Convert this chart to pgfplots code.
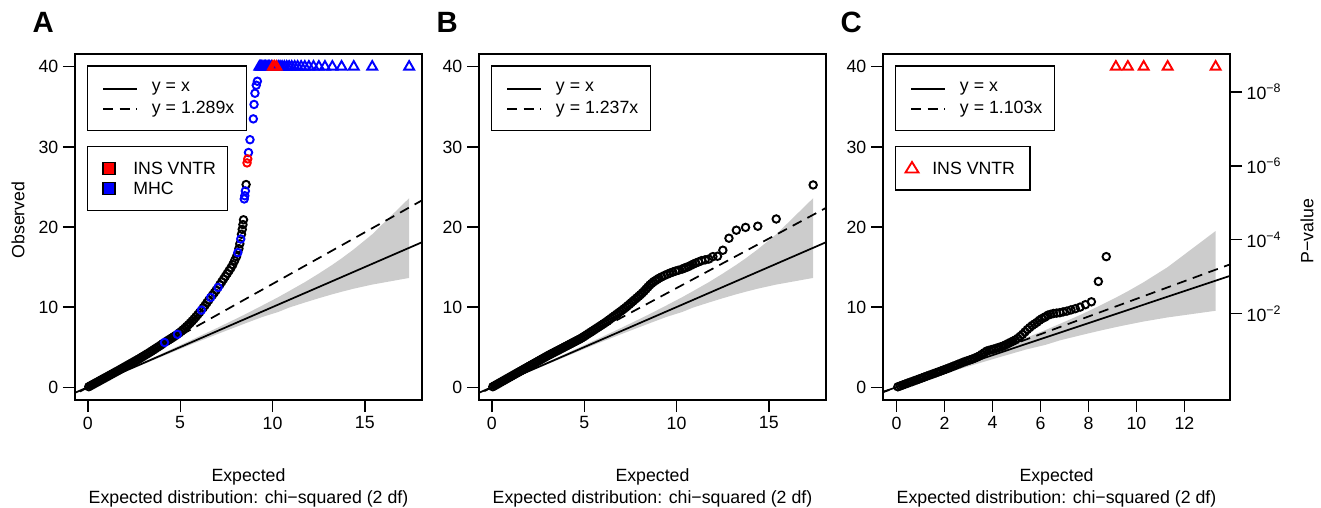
\documentclass[border=0pt]{standalone}
\usepackage{fontspec}
\setmainfont{Liberation Sans}
\usepackage{pgfplots}
\pgfplotsset{compat=1.18}
\definecolor{bandgray}{RGB}{204,204,204}
\definecolor{qqblue}{RGB}{0,0,255}
\definecolor{qqred}{RGB}{255,0,0}
\newcommand{\fs}{\fontsize{13.3}{16}\selectfont}

\pgfplotstableread{
x y
0.05 0.06
0.15 0.19
0.25 0.32
0.35 0.44
0.45 0.57
0.55 0.69
0.65 0.82
0.75 0.95
0.85 1.07
0.95 1.2
1.05 1.32
1.15 1.45
1.25 1.58
1.35 1.7
1.45 1.83
1.55 1.96
1.65 2.08
1.75 2.21
1.85 2.34
1.95 2.47
2.05 2.6
2.15 2.73
2.25 2.86
2.35 2.99
2.45 3.12
2.55 3.25
2.65 3.38
2.75 3.51
2.85 3.65
2.95 3.79
3.05 3.93
3.15 4.07
3.25 4.21
3.35 4.35
3.45 4.5
3.55 4.65
3.65 4.8
3.75 4.95
3.85 5.1
3.95 5.25
4.05 5.42
4.25 5.72
4.35 5.86
4.45 6.0
4.55 6.15
4.65 6.3
4.75 6.45
4.95 6.78
5.05 6.96
5.15 7.16
5.25 7.36
5.35 7.58
5.45 7.8
5.55 8.03
5.65 8.27
5.75 8.52
5.85 8.78
5.95 9.05
6.05 9.33
6.25 9.92
6.35 10.23
6.45 10.55
6.55 10.88
6.75 11.5
6.85 11.8
6.95 12.12
7.15 12.8
7.25 13.15
7.35 13.5
7.45 13.85
7.55 14.2
7.65 14.55
7.75 14.9
7.85 15.3
7.95 15.8
8.05 16.3
8.18 17.3
8.23 17.9
8.32 19.1
8.36 19.7
8.40 20.3
8.43 20.9
8.57 25.3
}\dataAblack

\pgfplotstableread{
x y
4.15 5.58
4.85 6.6
6.15 9.62
6.65 11.2
7.05 12.45
8.12 16.8
8.28 18.5
}\dataAbluelow

\pgfplotstableread{
x y
8.47 23.5
8.50 23.9
8.53 24.5
8.70 29.3
8.78 30.9
8.96 33.5
9.00 35.3
9.05 36.7
9.12 37.7
9.18 38.2
}\dataAblue

\pgfplotstableread{
x y
8.62 28.0
8.66 28.5
}\dataAred

\pgfplotstableread{
x y
17.40 40
15.40 40
14.40 40
13.74 40
13.24 40
12.84 40
12.51 40
12.22 40
11.97 40
11.75 40
11.55 40
11.36 40
11.20 40
11.04 40
10.90 40
10.77 40
10.64 40
10.52 40
10.41 40
10.31 40
9.94 40
9.85 40
9.77 40
9.70 40
9.62 40
9.55 40
9.48 40
9.41 40
9.35 40
9.29 40
}\dataAtriblue

\pgfplotstableread{
x y
10.21 40
10.11 40
10.02 40
}\dataAtrired

\pgfplotstableread{
x y
0.05 0.06
0.15 0.19
0.25 0.32
0.35 0.45
0.45 0.58
0.55 0.71
0.65 0.84
0.75 0.97
0.85 1.1
0.95 1.23
1.05 1.36
1.15 1.49
1.25 1.62
1.35 1.75
1.45 1.88
1.55 2.01
1.65 2.14
1.75 2.27
1.85 2.4
1.95 2.53
2.05 2.66
2.15 2.79
2.25 2.92
2.35 3.05
2.45 3.18
2.55 3.31
2.65 3.44
2.75 3.57
2.85 3.7
2.95 3.83
3.05 3.96
3.15 4.08
3.25 4.2
3.35 4.32
3.45 4.44
3.55 4.56
3.65 4.68
3.75 4.8
3.85 4.92
3.95 5.04
4.05 5.16
4.15 5.28
4.25 5.4
4.35 5.52
4.45 5.64
4.55 5.76
4.65 5.88
4.75 6.0
4.85 6.13
4.95 6.27
5.05 6.42
5.15 6.57
5.25 6.72
5.35 6.87
5.45 7.02
5.55 7.17
5.65 7.32
5.75 7.47
5.85 7.62
5.95 7.77
6.05 7.92
6.15 8.08
6.25 8.24
6.35 8.41
6.45 8.58
6.55 8.75
6.65 8.92
6.75 9.09
6.85 9.26
6.95 9.43
7.05 9.6
7.15 9.78
7.25 9.96
7.35 10.15
7.45 10.35
7.55 10.55
7.65 10.75
7.75 10.95
7.85 11.15
7.95 11.35
8.05 11.55
8.15 11.77
8.25 12.0
8.35 12.25
8.45 12.5
8.55 12.75
8.65 12.95
8.75 13.15
8.85 13.3
8.95 13.45
9.05 13.6
9.2 13.78
9.35 13.95
9.5 14.1
9.65 14.25
9.8 14.38
9.95 14.5
10.1 14.6
10.31 14.75
10.41 14.85
10.52 14.95
10.64 15.05
10.77 15.2
10.90 15.35
11.04 15.5
11.20 15.65
11.36 15.8
11.55 15.9
11.75 16.0
11.97 16.3
12.22 16.35
12.51 17.1
12.84 18.6
13.24 19.6
13.74 19.95
14.40 20.1
15.40 21.0
17.40 25.25
}\dataB

\pgfplotstableread{
x y
0.05 0.05
0.15 0.16
0.25 0.27
0.35 0.38
0.45 0.49
0.55 0.6
0.65 0.71
0.75 0.82
0.85 0.93
0.95 1.04
1.05 1.15
1.15 1.26
1.25 1.37
1.35 1.48
1.45 1.59
1.55 1.7
1.65 1.81
1.75 1.92
1.85 2.03
1.95 2.14
2.05 2.25
2.15 2.36
2.25 2.48
2.35 2.6
2.45 2.72
2.55 2.84
2.65 2.96
2.75 3.08
2.85 3.2
2.95 3.3
3.05 3.4
3.15 3.5
3.25 3.62
3.35 3.75
3.45 3.9
3.55 4.1
3.65 4.3
3.75 4.5
3.85 4.6
3.95 4.68
4.05 4.76
4.15 4.85
4.25 4.95
4.35 5.05
4.45 5.15
4.55 5.3
4.65 5.45
4.75 5.6
4.85 5.75
4.95 5.9
5.05 6.1
5.15 6.35
5.25 6.6
5.35 6.9
5.45 7.2
5.55 7.45
5.65 7.7
5.75 7.9
5.85 8.1
5.95 8.35
6.05 8.55
6.15 8.7
6.21 8.8
6.31 9.0
6.42 9.1
6.54 9.2
6.67 9.25
6.80 9.3
6.94 9.4
7.10 9.5
7.27 9.65
7.45 9.8
7.65 10.0
7.87 10.3
8.12 10.66
8.41 13.2
8.74 16.3
}\dataC

\pgfplotstableread{
x y
13.30 40
11.30 40
10.30 40
9.64 40
9.14 40
}\dataCtri

\pgfplotsset{
  qq/.style={
    scale only axis, width=260.25pt, height=259.5pt, anchor=south west,
    axis line style={line width=1pt},
    tick align=outside, major tick length=9pt,
    tick style={line width=1pt, black},
    xtick pos=left, ytick pos=left,
    ticklabel style={font=\fs},
    /pgf/number format/assume math mode=true,
    ymin=-1.6, ymax=41.6, ytick={0,10,20,30,40},
  },
  circ/.style={only marks, mark=o, mark size=2.8pt, mark options={line width=1.45pt, #1}},
  tri/.style={only marks, mark=triangle, mark size=4.3pt, mark options={line width=1.45pt, #1}},
  yx/.style={black, line width=1.3pt},
  yxd/.style={black, line width=1.3pt, dash pattern=on 7.5pt off 5pt},
}

\begin{document}
\begin{tikzpicture}
\useasboundingbox (0,0) rectangle (990.75pt,380.25pt);

% ---------------- Panel A ----------------
\begin{axis}[qq, at={(56.25pt,80.25pt)}, xmin=-0.696, xmax=18.096, xtick={0,5,10,15}]
\addplot[fill=bandgray, draw=none] coordinates {
(0,0) (0.24,0.27) (1.05,1.14) (2.435,2.56) (3.83,4.00) (5.66,5.95) (7.05,7.45) (8.45,9.02) (9.48,10.24) (10.31,11.24) (10.90,12.0) (11.75,13.11) (12.51,14.19) (13.24,15.28) (13.74,16.08) (14.40,17.21) (15.40,19.09) (17.40,23.60)
(17.40,13.64) (15.40,12.81) (14.40,12.30) (13.74,11.91) (13.24,11.60) (12.51,11.11) (11.75,10.57) (10.90,9.94) (10.31,9.39) (9.48,8.79) (8.45,7.90) (7.05,6.66) (5.66,5.40) (3.83,3.65) (2.435,2.31) (1.05,0.96) (0.24,0.21) (0,0)} -- cycle;
\addplot[yx] coordinates {(-2,-2) (20,20)};
\addplot[yxd] coordinates {(-2,-2.578) (20,25.78)};
\addplot[circ=black] table {\dataAblack};
\addplot[circ=qqblue] table {\dataAbluelow};
\addplot[circ=qqblue] table {\dataAblue};
\addplot[circ=qqred] table {\dataAred};
\addplot[tri=qqblue] table {\dataAtriblue};
\addplot[tri=qqred] table {\dataAtrired};
\end{axis}

% ---------------- Panel B ----------------
\begin{axis}[qq, at={(359.25pt,80.25pt)}, xmin=-0.696, xmax=18.096, xtick={0,5,10,15}]
\addplot[fill=bandgray, draw=none] coordinates {
(0,0) (0.24,0.27) (1.05,1.14) (2.435,2.56) (3.83,4.00) (5.66,5.95) (7.05,7.45) (8.45,9.02) (9.48,10.24) (10.31,11.24) (10.90,12.0) (11.75,13.11) (12.51,14.19) (13.24,15.28) (13.74,16.08) (14.40,17.21) (15.40,19.09) (17.40,23.60)
(17.40,13.64) (15.40,12.81) (14.40,12.30) (13.74,11.91) (13.24,11.60) (12.51,11.11) (11.75,10.57) (10.90,9.94) (10.31,9.39) (9.48,8.79) (8.45,7.90) (7.05,6.66) (5.66,5.40) (3.83,3.65) (2.435,2.31) (1.05,0.96) (0.24,0.21) (0,0)} -- cycle;
\addplot[yx] coordinates {(-2,-2) (20,20)};
\addplot[yxd] coordinates {(-2,-2.474) (20,24.74)};
\addplot[circ=black] table {\dataB};
\end{axis}

% ---------------- Panel C ----------------
\begin{axis}[qq, at={(662.25pt,80.25pt)}, xmin=-0.57, xmax=13.9, xtick={0,2,4,6,8,10,12}]
\addplot[fill=bandgray, draw=none] coordinates {
(0,0) (0.17,0.19) (1.56,1.85) (2.95,3.35) (4.35,4.92) (5.38,6.14) (6.21,7.14) (6.80,7.90) (7.65,9.01) (8.41,10.09) (9.14,11.18) (9.64,11.98) (10.30,13.11) (11.30,14.99) (13.30,19.50)
(13.30,9.54) (11.30,8.71) (10.30,8.20) (9.64,7.81) (9.14,7.50) (8.41,7.01) (7.65,6.47) (6.80,5.84) (6.21,5.29) (5.38,4.69) (4.35,3.80) (2.95,2.56) (1.56,1.30) (0.17,0.15) (0,0)} -- cycle;
\addplot[yx] coordinates {(-2,-2) (16,16)};
\addplot[yxd] coordinates {(-2,-2.206) (16,17.648)};
\addplot[circ=black] table {\dataC};
\addplot[tri=qqred] table {\dataCtri};
\end{axis}
\begin{axis}[scale only axis, width=260.25pt, height=259.5pt, anchor=south west,
  at={(662.25pt,80.25pt)}, xmin=0, xmax=1, ymin=-0.34743, ymax=9.03333,
  axis x line=none, axis y line*=right, axis line style={line width=1pt},
  tick align=outside, major tick length=9pt, tick style={line width=1pt, black},
  ytick={2,4,6,8}, ticklabel style={font=\fs},
  yticklabels={10\textsuperscript{−2},10\textsuperscript{−4},10\textsuperscript{−6},10\textsuperscript{−8}}]
\end{axis}

% ---------------- texts and legends (pixel coordinates) ----------------
\begin{scope}[x=0.75pt, y=-0.75pt, shift={(0pt,380.25pt)}]
\foreach \dx/\lab/\slope in {0/A/1.289, 404/B/1.237, 808/C/1.103} {
  \node[font=\fontsize{22}{26}\selectfont\bfseries, inner sep=0pt] at (43.3+\dx,22.2) {\lab};
  \node[font=\fs, inner sep=0pt, anchor=base] at (248.5+\dx,481.7) {Expected};
  \node[font=\fs, inner sep=0pt, anchor=base] at (248.5+\dx,503.3) {Expected distribution: chi−squared (2 df)};
  \draw[line width=1pt, fill=white] (87.7+\dx,66) rectangle (246.7+\dx,130.3);
  \draw[line width=1.3pt] (103+\dx,88.7) -- (137+\dx,88.7);
  \draw[line width=1.3pt, dash pattern=on 7.5pt off 5pt] (103+\dx,108.7) -- (137+\dx,108.7);
  \node[font=\fs, inner sep=0pt, anchor=west] at (151.7+\dx,88.7) {y = x};
  \node[font=\fs, inner sep=0pt, anchor=west] at (151.7+\dx,108.7) {y = \slope x};
}
\node[font=\fs, inner sep=0pt, rotate=90] at (18,220) {Observed};
\node[font=\fs, inner sep=0pt, rotate=90] at (1307,231) {P−value};
% legend 2 of A
\draw[line width=1pt, fill=white] (87.7,146.3) rectangle (227.3,210.3);
\draw[line width=0.9pt, fill=qqred] (103,162.7) rectangle (115,174.7);
\draw[line width=0.9pt, fill=qqblue] (103,182.7) rectangle (115,194.7);
\node[font=\fs, inner sep=0pt, anchor=west] at (133,168.7) {INS VNTR};
\node[font=\fs, inner sep=0pt, anchor=west] at (133,188.7) {MHC};
% legend 2 of C
\draw[line width=1pt, fill=white] (895.7,146.3) rectangle (1030,190);
\draw[line width=1.4pt, qqred] (905.5,172.5) -- (918.5,172.5) -- (912,162) -- cycle;
\node[font=\fs, inner sep=0pt, anchor=west] at (932,168.2) {INS VNTR};
\end{scope}
\end{tikzpicture}
\end{document}
